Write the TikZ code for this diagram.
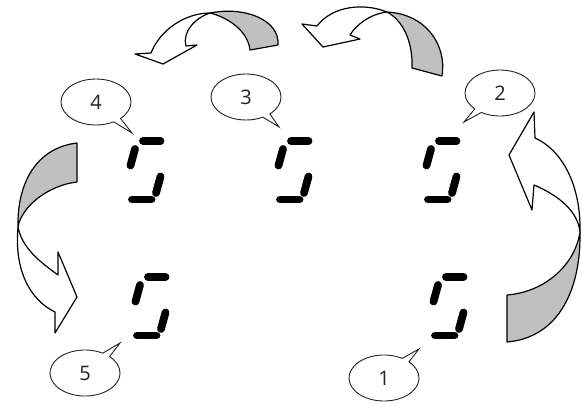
\documentclass[tikz,border=0pt]{standalone}
\usepackage{fontspec}
\setmainfont{Open Sans}
\usetikzlibrary{shapes.callouts}
\definecolor{RibbonGray}{HTML}{C0C0C0}
\definecolor{InkGray}   {HTML}{222222}
\tikzset{
  bubble/.style={ellipse callout,draw=InkGray,fill=white,line width=0.9pt,
                 minimum width=70pt,minimum height=46pt,inner sep=0pt,
                 callout pointer arc=14,
                 font=\fontsize{20}{22}\selectfont\color{InkGray}},
  segline/.style={line width=7.8pt,line cap=round,color=black},
  ribbonback/.style={draw=black,fill=RibbonGray,line width=1.2pt,line join=round},
  ribbonfront/.style={draw=black,fill=white,line width=1.2pt,line join=round},
  segdigit/.pic={
    \draw[segline] (15,4) -- (32.5,4);
    \draw[segline] (7,12) -- (2.5,28.5);
    \draw[segline] (32.5,39.5) -- (28,56);
    \draw[segline] (4,62.5) -- (23.5,62.5);
  },
}

\begin{document}
\begin{tikzpicture}[x=1pt,y=-1pt]
  \useasboundingbox (0,0) rectangle (582,405);

  % ribbon 1 -> 2
  \path[ribbonback] (580,232) .. controls (581,295) and (555,338) .. (507,342)
    -- (507,295) .. controls (545,292) and (575,265) .. (580,232) -- cycle;
  \path[ribbonfront] (534,112) -- (509,155) -- (532,210) -- (534,185)
    .. controls (560,196) and (578,212) .. (580,232)
    .. controls (581,185) and (562,150) .. (535,138) -- cycle;

  % ribbon 2 -> 3
  \path[ribbonback] (412,68) -- (442,76) .. controls (447,45) and (426,14) .. (387,12)
    .. controls (402,20) and (413,40) .. (412,68) -- cycle;
  \path[ribbonfront] (387,12) .. controls (365,3) and (333,5) .. (317,26)
    -- (302,24) -- (323,47) -- (360,39) -- (350,35)
    .. controls (356,25) and (370,14) .. (387,12) -- cycle;

  % ribbon 3 -> 4
  \path[ribbonback] (250,50) -- (278,45) .. controls (280,20) and (245,6) .. (210,13)
    .. controls (230,18) and (248,32) .. (250,50) -- cycle;
  \path[ribbonfront] (210,13) .. controls (185,13) and (160,30) .. (151,53)
    -- (135,54) -- (163,64) -- (197,45) -- (186,46)
    .. controls (182,32) and (195,18) .. (210,13) -- cycle;

  % ribbon 4 -> 5
  \path[ribbonback] (77,143) -- (77,182) .. controls (50,185) and (22,205) .. (18,227)
    .. controls (17,185) and (35,148) .. (77,143) -- cycle;
  \path[ribbonfront] (18,227) .. controls (14,270) and (30,300) .. (55,312)
    -- (55,333) -- (77,297) -- (58,252) -- (58,275)
    .. controls (40,262) and (22,248) .. (18,227) -- cycle;

  % displays
  \pic (d4) at (128,137) {segdigit};
  \pic (d3) at (276,137) {segdigit};
  \pic (d2) at (424,137) {segdigit};
  \pic (d5) at (133,273) {segdigit};
  \pic (d1) at (431,273) {segdigit};

  % callouts
  \coordinate (p1) at (419,349);
  \coordinate (p2) at (464,122);
  \coordinate (p3) at (279,127);
  \coordinate (p4) at (132,133);
  \coordinate (p5) at (120,343);
  \node[bubble,callout absolute pointer={(p1)}] (c1) at (384,378) {1};
  \node[bubble,callout absolute pointer={(p2)}] (c2) at (500,93) {2};
  \node[bubble,callout absolute pointer={(p3)}] (c3) at (246,97) {3};
  \node[bubble,callout absolute pointer={(p4)}] (c4) at (96,102) {4};
  \node[bubble,callout absolute pointer={(p5)}] (c5) at (85,373) {5};

\end{tikzpicture}
\end{document}
